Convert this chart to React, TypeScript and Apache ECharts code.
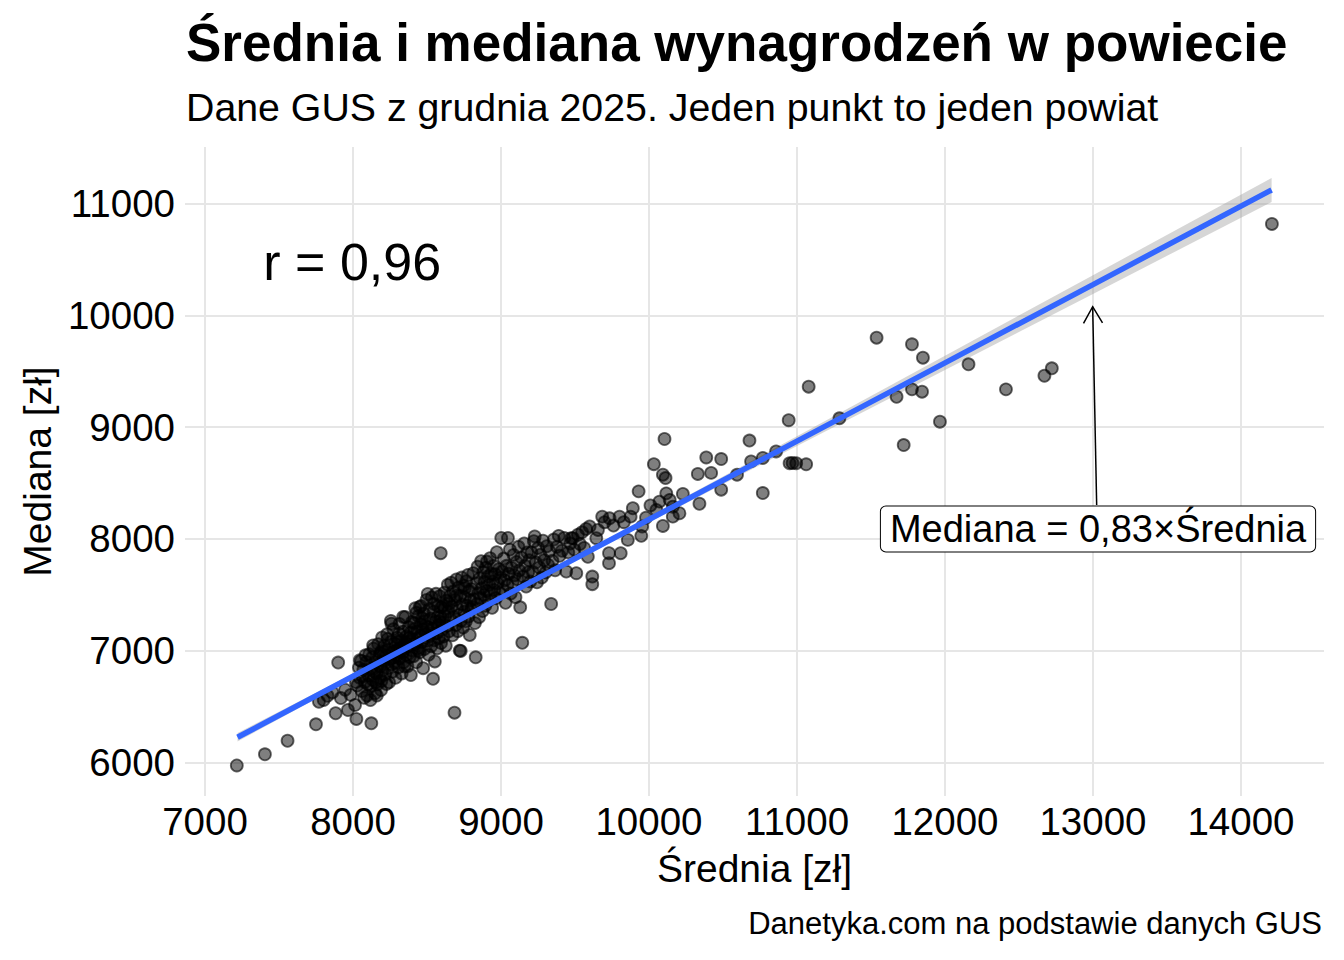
import React, { useEffect, useRef } from "react";
import * as echarts from "echarts";

const FONT = "'Liberation Sans', Arial, Helvetica, sans-serif";

// Punkty [średnia, mediana] (jeden punkt = jeden powiat)
const ogonDolny: [number, number][] = [
	[7215, 5975], [7405, 6075], [7558, 6196], [7750, 6343], [7770, 6545], [7900, 6895],
	[7883, 6442], [7966, 6471], [8014, 6516], [8023, 6391], [8124, 6352], [8118, 6560],
	[7828, 6598], [7861, 6628], [7918, 6578], [7947, 6652], [7984, 6606], [7802, 6560],
	[8686, 6447],
];

const pas8000: [number, number][] = [
	[8030, 6690], [8045, 6760], [8060, 6640], [8070, 6830], [8080, 6720], [8090, 6900],
	[8095, 6600], [8105, 6780], [8110, 6970], [8120, 6680], [8125, 6850], [8135, 6740],
	[8140, 7020], [8150, 6620], [8152, 6900], [8160, 6800], [8165, 6700], [8170, 7060],
	[8175, 6950], [8181, 6760], [8185, 6860], [8190, 6650], [8195, 7000], [8199, 6820],
	[8055, 6910], [8075, 6580], [8101, 6700], [8130, 6940], [8145, 6810], [8156, 6720],
	[8172, 6880], [8186, 6980], [8040, 6850], [8065, 6770], [8115, 6830], [8192, 6730],
	[8020, 6720], [8085, 6960], [8161, 6600], [8197, 7120], [8046, 6915], [8136, 7049],
];

const pas8200: [number, number][] = [
	[8207, 6905], [8213, 7046], [8218, 6788], [8224, 6958], [8231, 7148], [8236, 6846],
	[8239, 7012], [8244, 6718], [8251, 6925], [8256, 7268], [8258, 7082], [8266, 6812],
	[8269, 6988], [8273, 7193], [8281, 6894], [8284, 7063], [8287, 6758], [8296, 6950],
	[8299, 7118], [8301, 7006], [8308, 6853], [8314, 7241], [8317, 6931], [8322, 7093],
	[8329, 6798], [8331, 7002], [8339, 7172], [8342, 6897], [8346, 7054], [8353, 7302],
	[8357, 6963], [8361, 7128], [8368, 6862], [8372, 7041], [8377, 7212], [8383, 6942],
	[8386, 7083], [8391, 6784], [8397, 7004], [8399, 7258], [8211, 6992], [8234, 7107],
	[8263, 6879], [8292, 7001], [8311, 7154], [8336, 6982], [8364, 7061], [8389, 7163],
	[8226, 6703], [8277, 6947], [8319, 7024], [8349, 6859], [8381, 7117], [8253, 6931],
	[8304, 7079], [8260, 7243], [8339, 7303],
];

const pas8400: [number, number][] = [
	[8404, 7103], [8409, 6952], [8412, 7248], [8418, 7061], [8421, 7380], [8427, 6898],
	[8433, 7172], [8436, 7021], [8441, 7310], [8447, 7114], [8452, 6987], [8458, 7236],
	[8461, 7402], [8466, 7078], [8471, 7192], [8474, 6845], [8479, 7333], [8483, 7016],
	[8488, 7264], [8492, 7148], [8497, 7455], [8502, 7089], [8506, 7212], [8511, 6964],
	[8515, 7371], [8519, 7130], [8524, 7288], [8528, 7040], [8533, 7478], [8537, 7199],
	[8541, 6750], [8544, 7351], [8549, 7094], [8553, 6905], [8556, 7262], [8561, 7510],
	[8565, 7156], [8569, 7023], [8574, 7401], [8578, 7228], [8582, 7115], [8587, 7489],
	[8591, 7306], [8595, 7070], [8599, 7186], [8416, 7195], [8443, 7005], [8468, 7290],
	[8494, 7220], [8521, 7155], [8547, 7420], [8572, 7300], [8597, 7390], [8429, 7341],
	[8505, 7509], [8585, 7265], [8455, 7132], [8451, 7393],
];

const pas8600: [number, number][] = [
	[8603, 7251], [8608, 7405], [8612, 7128], [8617, 7520], [8623, 7310], [8627, 7046],
	[8631, 7448], [8636, 7221], [8641, 7590], [8645, 7352], [8649, 7174], [8654, 7489],
	[8659, 7282], [8663, 7609], [8668, 7397], [8672, 7138], [8676, 7530], [8681, 7303],
	[8690, 7455], [8695, 7230], [8699, 7638], [8704, 7382], [8708, 7176], [8713, 7567],
	[8717, 7321], [8721, 7002], [8726, 7492], [8730, 7269], [8735, 7655], [8739, 7414],
	[8744, 7208], [8748, 7583], [8753, 7350], [8757, 7478], [8762, 7263], [8766, 7622],
	[8771, 7404], [8777, 7678], [8781, 7306], [8785, 7535], [8789, 7142], [8794, 7451],
	[8798, 7372], [8593, 7873], [8620, 7380], [8652, 7420], [8701, 7495], [8756, 7560],
	[8728, 6999],
];

const pas8800: [number, number][] = [
	[8803, 7552], [8808, 7389], [8813, 7695], [8818, 7461], [8824, 7248], [8829, 6942],
	[8833, 7604], [8838, 7420], [8842, 7752], [8847, 7515], [8852, 7301], [8856, 7648],
	[8861, 7472], [8866, 7801], [8870, 7560], [8875, 7355], [8880, 7702], [8884, 7499],
	[8889, 7617], [8894, 7402], [8898, 7743], [8903, 7535], [8906, 7798], [8912, 7664],
	[8916, 7448], [8921, 7590], [8926, 7828], [8930, 7512], [8935, 7690], [8940, 7385],
	[8945, 7620], [8950, 7760], [8955, 7545], [8961, 7685], [8966, 7470], [8972, 7882],
	[8978, 7603], [8985, 7730], [8991, 7520], [8997, 7655],
];

const pas9000: [number, number][] = [
	[9002, 8009], [9008, 7710], [9013, 7545], [9019, 7825], [9025, 7630], [9031, 7430],
	[9038, 7760], [9044, 7588], [9047, 8009], [9053, 7690], [9060, 7905], [9066, 7512],
	[9072, 7742], [9079, 7610], [9085, 7858], [9092, 7675], [9098, 7480], [9105, 7795],
	[9111, 7640], [9118, 7930], [9124, 7718], [9130, 7389], [9137, 7835], [9144, 7072],
	[9150, 7665], [9157, 7960], [9163, 7760], [9170, 7575], [9177, 7880], [9184, 7702],
	[9191, 7810], [9198, 7620],
	[9206, 7880], [9214, 7705], [9222, 7980], [9228, 8023], [9235, 7790], [9243, 7612],
	[9251, 7920], [9259, 7745], [9267, 7860], [9276, 7655], [9284, 7985], [9292, 7810],
	[9301, 7700], [9309, 7935], [9318, 7770], [9327, 7890], [9339, 7419], [9348, 7805],
	[9357, 7995], [9366, 7720], [9378, 7930], [9390, 8028], [9396, 7850],
];

const pas9400: [number, number][] = [
	[9412, 7895], [9428, 8010], [9441, 7709], [9455, 7880], [9468, 7960], [9475, 8008],
	[9486, 8008], [9495, 7905], [9509, 7694], [9520, 8038], [9533, 7955], [9548, 8060],
	[9562, 7920], [9575, 8090], [9587, 7841],
	[9599, 8112], [9617, 7664], [9617, 7596], [9644, 8007], [9655, 8081], [9684, 8200],
	[9700, 8150], [9730, 7873], [9730, 7784], [9734, 8185], [9760, 8120], [9801, 8200],
	[9809, 7873], [9830, 8150], [9857, 7992], [9876, 8200], [9891, 8275], [9930, 8426],
	[9948, 8028], [9954, 8112], [9980, 8190],
];

const pasWysoki: [number, number][] = [
	[10033, 8669], [10071, 8334], [10094, 8575], [10094, 8117], [10105, 8894], [10112, 8545],
	[10117, 8408], [10161, 8289], [10161, 8200], [10206, 8230], [10229, 8403], [10330, 8582],
	[10341, 8315], [10387, 8729], [10420, 8591], [10488, 8715], [10488, 8441], [10050, 8260],
	[10140, 8350], [10010, 8300],
	[10595, 8575], [10679, 8880], [10690, 8694], [10769, 8724], [10769, 8411], [10859, 8783],
	[10944, 9062], [10950, 8678], [10970, 8680], [10995, 8678], [11062, 8668], [11079, 9362],
	[11287, 9079], [11538, 9800], [11673, 9272], [11721, 8840], [11777, 9338], [11777, 9741],
	[11845, 9317], [11851, 9621], [11966, 9049], [12159, 9562], [12412, 9338], [12672, 9460],
	[12722, 9526], [14209, 10817],
];

const powiaty = [
	...ogonDolny, ...pas8000, ...pas8200, ...pas8400, ...pas8600,
	...pas8800, ...pas9000, ...pas9400, ...pasWysoki,
];

// Linia regresji i przedział ufności (geom_smooth, method = "lm")
const fitX = [7220, 8000, 9000, 10000, 11000, 12000, 13000, 14207];
const fitY = [6227, 6773, 7474, 8174, 8875, 9575, 10275, 11121];
const bandLow = [6189, 6750, 7458, 8148, 8831, 9511, 10191, 11014];
const bandHigh = [6265, 6796, 7490, 8200, 8919, 9639, 10359, 11228];

const xTicks = [7000, 8000, 9000, 10000, 11000, 12000, 13000, 14000];
const yTicks = [6000, 7000, 8000, 9000, 10000, 11000];

// Adnotacje w jednostkach danych
const rPos = [7995, 10480];
const labelPos = [13034, 8090];
const arrowFrom = [13025, 8304];
const arrowTo = [12998, 10077];

const App: React.FC = () => {
	const chartRef = useRef<HTMLDivElement>(null);

	useEffect(() => {
		if (!chartRef.current) return;
		const chart = echarts.init(chartRef.current, undefined, { renderer: "svg" });

		const option: any = {
			animation: false,
			backgroundColor: "#fff",
			textStyle: { fontFamily: FONT },
			grid: { left: 185, right: 20, top: 147, bottom: 164, containLabel: false },
			xAxis: {
				type: "value",
				min: 6865,
				max: 14561,
				name: "Średnia [zł]",
				nameLocation: "middle",
				nameGap: 53,
				nameTextStyle: { fontSize: 39, color: "#000", fontFamily: FONT },
				axisLine: { show: false },
				axisTick: { show: false, customValues: xTicks },
				axisLabel: {
					customValues: xTicks,
					fontSize: 38.5,
					color: "#000",
					fontFamily: FONT,
					margin: 6,
					formatter: (v: number) => String(v),
				},
				splitLine: { show: true, lineStyle: { color: "#E6E6E6", width: 2 } },
			},
			yAxis: {
				type: "value",
				min: 5702,
				max: 11505,
				name: "Mediana [zł]",
				nameLocation: "middle",
				nameGap: 127,
				nameTextStyle: { fontSize: 39, color: "#000", fontFamily: FONT },
				axisLine: { show: false },
				axisTick: { show: false, customValues: yTicks },
				axisLabel: {
					customValues: yTicks,
					fontSize: 38.5,
					color: "#000",
					fontFamily: FONT,
					margin: 10,
					formatter: (v: number) => String(v),
				},
				splitLine: { show: true, lineStyle: { color: "#E6E6E6", width: 2 } },
			},
			graphic: [
				{
					type: "text",
					left: 186,
					top: 16,
					style: {
						text: "Średnia i mediana wynagrodzeń w powiecie",
						font: `bold 53px ${FONT}`,
						fill: "#000",
					},
				},
				{
					type: "text",
					left: 186,
					top: 87,
					style: {
						text: "Dane GUS z grudnia 2025. Jeden punkt to jeden powiat",
						font: `39.3px ${FONT}`,
						fill: "#000",
					},
				},
				{
					type: "text",
					right: 22,
					top: 908,
					style: {
						text: "Danetyka.com na podstawie danych GUS",
						font: `31px ${FONT}`,
						fill: "#000",
					},
				},
			],
			series: [
				{
					type: "scatter",
					data: powiaty,
					symbolSize: 12,
					itemStyle: {
						color: "rgba(0,0,0,0.5)",
						borderColor: "rgba(0,0,0,0.6)",
						borderWidth: 1.8,
						opacity: 1,
					},
					silent: true,
				},
				{
					type: "custom",
					data: [[fitX[0], fitY[0]]],
					silent: true,
					renderItem: (_params: any, api: any) => {
						const pts: number[][] = [];
						fitX.forEach((x, i) => pts.push(api.coord([x, bandHigh[i]])));
						for (let i = fitX.length - 1; i >= 0; i--) {
							pts.push(api.coord([fitX[i], bandLow[i]]));
						}
						return {
							type: "polygon",
							shape: { points: pts },
							style: { fill: "rgba(153,153,153,0.4)" },
						};
					},
				},
				{
					type: "line",
					data: fitX.map((x, i) => [x, fitY[i]]),
					showSymbol: false,
					silent: true,
					lineStyle: { color: "#3366FF", width: 5.5 },
				},
				{
					type: "custom",
					data: [[labelPos[0], labelPos[1]]],
					silent: true,
					renderItem: (_params: any, api: any) => {
						const [tx, ty] = api.coord(arrowTo);
						const [fx, fy] = api.coord(arrowFrom);
						const ang = Math.atan2(ty - fy, tx - fx);
						const head = 19;
						const spread = Math.PI / 6;
						const h1 = [tx - head * Math.cos(ang - spread), ty - head * Math.sin(ang - spread)];
						const h2 = [tx - head * Math.cos(ang + spread), ty - head * Math.sin(ang + spread)];
						const [lx, ly] = api.coord(labelPos);
						const [rx, ry] = api.coord(rPos);
						return {
							type: "group",
							children: [
								{
									type: "line",
									shape: { x1: fx, y1: fy, x2: tx, y2: ty },
									style: { stroke: "#000", lineWidth: 1.5 },
								},
								{
									type: "polyline",
									shape: { points: [h1, [tx, ty], h2] },
									style: { stroke: "#000", lineWidth: 1.5, fill: "none" },
								},
								{
									type: "text",
									x: lx,
									y: ly,
									style: {
										text: "Mediana = 0,83×Średnia",
										font: `38px ${FONT}`,
										fill: "#000",
										align: "center",
										verticalAlign: "middle",
										backgroundColor: "#fff",
										borderColor: "#000",
										borderWidth: 1,
										borderRadius: 5,
										padding: [3.5, 9],
									},
								},
								{
									type: "text",
									x: rx,
									y: ry,
									style: {
										text: "r = 0,96",
										font: `52px ${FONT}`,
										fill: "#000",
										align: "center",
										verticalAlign: "middle",
									},
								},
							],
						};
					},
				},
			],
		};

		chart.setOption(option);
		return () => chart.dispose();
	}, []);

	return <div ref={chartRef} style={{ width: 1344, height: 960, margin: -8 }} />;
};

export default App;
